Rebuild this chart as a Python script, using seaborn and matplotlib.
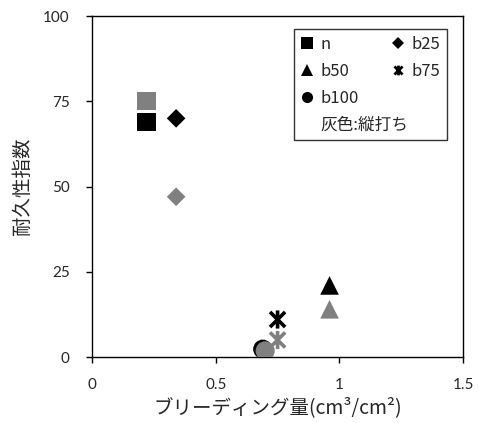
"""Durability index vs bleeding amount scatter (n / b25 / b50 / b75 / b100)."""

import matplotlib
matplotlib.use("Agg")
import matplotlib.pyplot as plt
import numpy as np
import pandas as pd
import seaborn as sns
from matplotlib.lines import Line2D
from matplotlib.markers import MarkerStyle
from matplotlib.path import Path

# series names, bleeding amount (cm3/cm2) and durability index
series = ["n", "b25", "b50", "b75", "b100"]
bleed_black = [0.22, 0.34, 0.96, 0.75, 0.69]
index_black = [69, 70, 21, 11, 2.3]
bleed_gray = [0.22, 0.34, 0.96, 0.75, 0.70]
index_gray = [75, 47, 14, 5, 1.8]

x_ticks = [0, 0.5, 1, 1.5]
x_tick_labels = ["0", "0.5", "1", "1.5"]
y_ticks = [0, 25, 50, 75, 100]

asterisk_path = Path(
    [(-1, -1), (1, 1), (-1, 1), (1, -1), (0, -1.2), (0, 1.2)],
    [Path.MOVETO, Path.LINETO, Path.MOVETO, Path.LINETO, Path.MOVETO, Path.LINETO],
)
asterisk = MarkerStyle(asterisk_path, fillstyle="none")
markers = {"n": "s", "b25": "D", "b50": "^", "b75": asterisk, "b100": "o"}
sizes = {"n": 175, "b25": 90, "b50": 180, "b75": 170, "b100": 190}

df = pd.concat([
    pd.DataFrame({"series": series, "x": bleed_black, "y": index_black, "kind": "black"}),
    pd.DataFrame({"series": series, "x": bleed_gray, "y": index_gray, "kind": "gray"}),
])
colors = {"black": "#000000", "gray": "#808080"}

sns.set_style("white")
plt.rcParams["font.family"] = ["Lato", "DejaVu Sans"]
jp = ["Noto Sans CJK JP", "DejaVu Sans"]

fig = plt.figure(figsize=(4.79, 4.23), dpi=100)
ax = fig.add_axes([0.192, 0.156, 0.775, 0.806])

for name in series:
    for kind in ["black", "gray"]:
        sub = df[(df["series"] == name) & (df["kind"] == kind)]
        if name == "b75":
            sns.scatterplot(data=sub, x="x", y="y", ax=ax, marker=markers[name],
                            s=sizes[name], color=colors[kind], linewidth=2.6,
                            legend=False, zorder=3)
        else:
            sns.scatterplot(data=sub, x="x", y="y", ax=ax, marker=markers[name],
                            s=sizes[name], color=colors[kind], edgecolor="none",
                            linewidth=0, legend=False, zorder=3)

ax.set_xlim(0, 1.5)
ax.set_ylim(0, 100)
ax.set_xticks(x_ticks)
ax.set_xticklabels(x_tick_labels)
ax.set_yticks(y_ticks)
ax.tick_params(axis="both", direction="out", length=4, width=1, color="black",
               labelsize=11, bottom=True, left=True)
ax.tick_params(axis="x", pad=11)
ax.tick_params(axis="y", pad=12)
for sp in ax.spines.values():
    sp.set_color("black")
    sp.set_linewidth(1.0)

ax.set_xlabel("ブリーディング量(cm³/cm²)", family=jp, fontsize=14, labelpad=4)
ax.set_ylabel("耐久性指数", family=jp, fontsize=14, labelpad=7)

# legend: column-wise fill -> n, b50, b100, note | b25, b75, blank
def h(m, ms, lw=0, fill="full"):
    return Line2D([], [], linestyle="none", marker=m, color="black",
                  markersize=ms, markeredgewidth=lw, fillstyle=fill)

blank = Line2D([], [], linestyle="none", marker=None)
handles = [h("s", 8), h("^", 8), h("o", 8), blank,
           h("D", 6), h(asterisk_path, 7, 2.0, "none"), blank]
labels = ["n", "b50", "b100", "灰色:縦打ち", "b25", "b75", ""]
leg = ax.legend(handles, labels, ncol=2, loc="upper left",
                bbox_to_anchor=(0.544, 0.962, 0.413, 0.0), mode="expand",
                frameon=True, fancybox=False, edgecolor="black", fontsize=12,
                handlelength=0.8, handletextpad=0.4, labelspacing=0.6,
                borderpad=0.4, columnspacing=0.6, borderaxespad=0)
leg.get_frame().set_linewidth(1.0)
for t in leg.get_texts():
    t.set_family(jp)

fig.savefig("out.png", dpi=100)
